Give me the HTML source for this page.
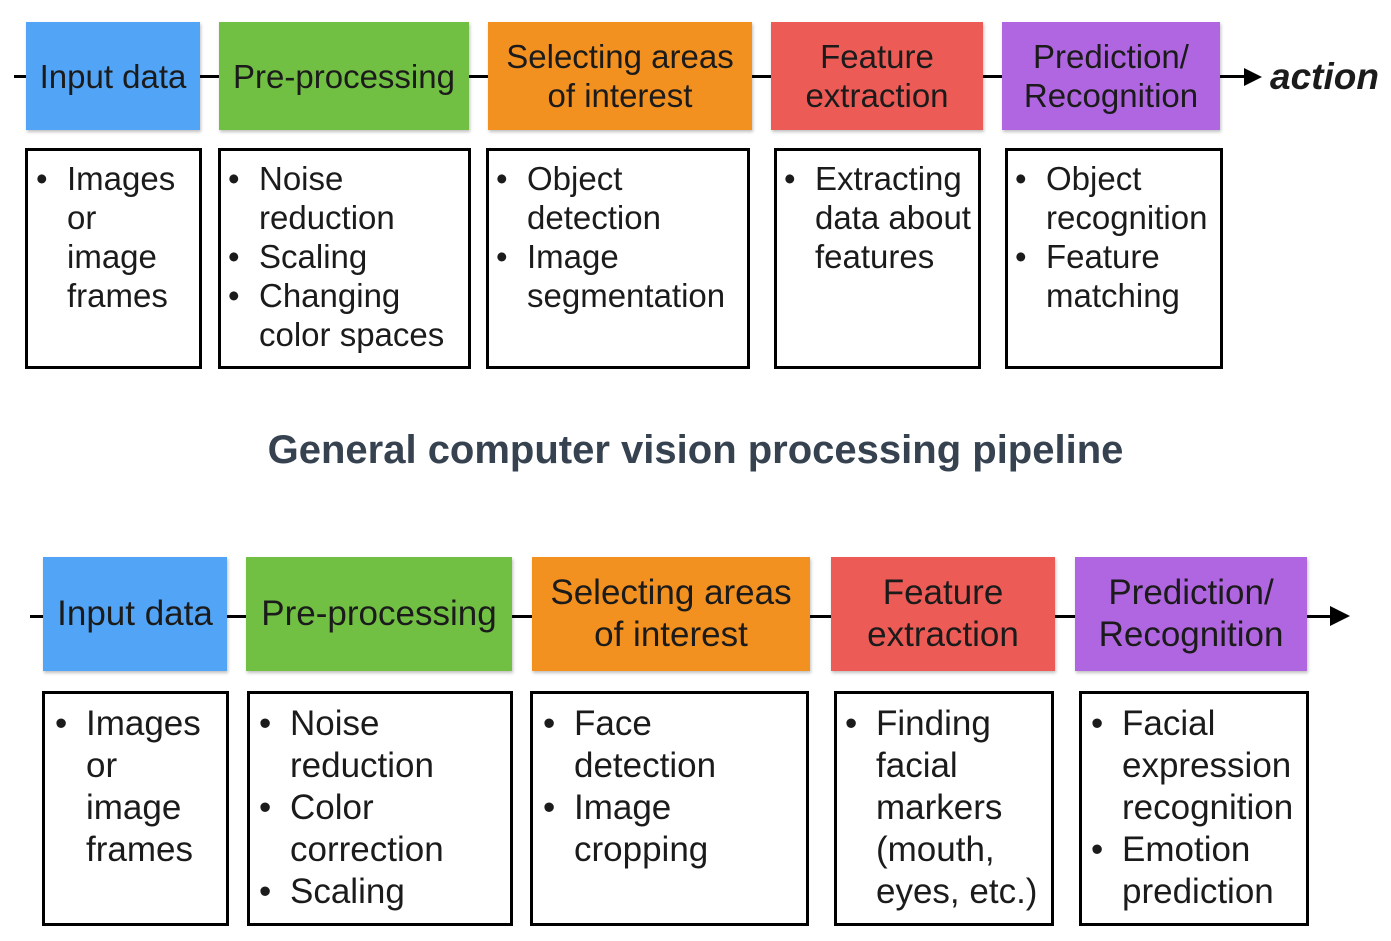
<!DOCTYPE html>
<html><head><style>
body{margin:0;width:1391px;height:941px;background:#fff;position:relative;overflow:hidden;font-family:"Liberation Sans",sans-serif;color:#1b1b1b}
.h{position:absolute;display:flex;align-items:center;justify-content:center;text-align:center;box-shadow:1px 2px 3px rgba(0,0,0,.25)}
.t{font-size:33px;line-height:39px}
.b{font-size:35px;line-height:42px}
.bx{position:absolute;border:3.5px solid #000;box-sizing:border-box}
.bx ul{margin:0;padding:0;list-style:none}
.bx li{position:relative}
.bx li:before{content:"•";position:absolute;left:-31px}
.ln{position:absolute;height:3px;background:#000}
</style></head><body>
<div class="ln" style="left:14px;top:75px;width:1240px"></div>
<svg style="position:absolute;left:1244px;top:68px" width="20" height="18"><polygon points="0,0 18,9 0,18" fill="#000"/></svg>
<div style="position:absolute;left:1270px;top:56px;font-size:37px;font-weight:bold;font-style:italic">action</div>
<div class="h t" style="left:26px;top:22px;width:174px;height:108px;background:#51a4f6">Input data</div>
<div class="h t" style="left:219px;top:22px;width:250px;height:108px;background:#72c043">Pre-processing</div>
<div class="h t" style="left:488px;top:22px;width:264px;height:108px;background:#f29020">Selecting areas<br>of interest</div>
<div class="h t" style="left:771px;top:22px;width:212px;height:108px;background:#ec5b55">Feature<br>extraction</div>
<div class="h t" style="left:1002px;top:22px;width:218px;height:108px;background:#b166e1">Prediction/<br>Recognition</div>

<div class="bx t" style="left:25px;top:148px;width:177px;height:221px;padding:8px 0 0 39px"><ul><li>Images<br>or<br>image<br>frames</li></ul></div>
<div class="bx t" style="left:218px;top:148px;width:253px;height:221px;padding:8px 0 0 38px"><ul><li>Noise<br>reduction</li><li>Scaling</li><li>Changing<br>color spaces</li></ul></div>
<div class="bx t" style="left:486px;top:148px;width:264px;height:221px;padding:8px 0 0 38px"><ul><li>Object<br>detection</li><li>Image<br>segmentation</li></ul></div>
<div class="bx t" style="left:774px;top:148px;width:207px;height:221px;padding:8px 0 0 38px"><ul><li>Extracting<br>data about<br>features</li></ul></div>
<div class="bx t" style="left:1005px;top:148px;width:218px;height:221px;padding:8px 0 0 38px"><ul><li>Object<br>recognition</li><li>Feature<br>matching</li></ul></div>

<div style="position:absolute;left:0;width:1391px;top:428px;text-align:center;font-size:40px;font-weight:bold;color:#36424f">General computer vision processing pipeline</div>

<div class="ln" style="left:30px;top:615px;width:1310px"></div>
<svg style="position:absolute;left:1330px;top:606px" width="22" height="20"><polygon points="0,0 20,10 0,20" fill="#000"/></svg>
<div class="h b" style="left:43px;top:557px;width:184px;height:114px;background:#51a4f6">Input data</div>
<div class="h b" style="left:246px;top:557px;width:266px;height:114px;background:#72c043">Pre-processing</div>
<div class="h b" style="left:532px;top:557px;width:278px;height:114px;background:#f29020">Selecting areas<br>of interest</div>
<div class="h b" style="left:831px;top:557px;width:224px;height:114px;background:#ec5b55">Feature<br>extraction</div>
<div class="h b" style="left:1075px;top:557px;width:232px;height:114px;background:#b166e1">Prediction/<br>Recognition</div>

<div class="bx b" style="left:42px;top:691px;width:187px;height:235px;padding:9px 0 0 41px"><ul><li>Images<br>or<br>image<br>frames</li></ul></div>
<div class="bx b" style="left:247px;top:691px;width:266px;height:235px;padding:9px 0 0 40px"><ul><li>Noise<br>reduction</li><li>Color<br>correction</li><li>Scaling</li></ul></div>
<div class="bx b" style="left:530px;top:691px;width:279px;height:235px;padding:9px 0 0 41px"><ul><li>Face<br>detection</li><li>Image<br>cropping</li></ul></div>
<div class="bx b" style="left:834px;top:691px;width:220px;height:235px;padding:9px 0 0 39px"><ul><li>Finding<br>facial<br>markers<br>(mouth,<br>eyes, etc.)</li></ul></div>
<div class="bx b" style="left:1079px;top:691px;width:230px;height:235px;padding:9px 0 0 40px"><ul><li>Facial<br>expression<br>recognition</li><li>Emotion<br>prediction</li></ul></div>
</body></html>
